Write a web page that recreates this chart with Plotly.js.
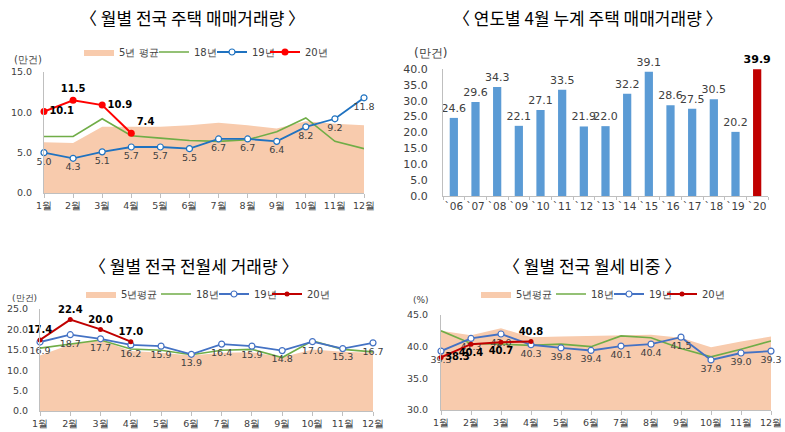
<!DOCTYPE html>
<html><head><meta charset="utf-8">
<script src="https://cdn.plot.ly/plotly-3.0.1.min.js"></script>
<style>html,body{margin:0;padding:0;background:#fff}</style>
</head><body><div id="chart" style="width:785px;height:432px"></div>
<script>
const months = ['1월','2월','3월','4월','5월','6월','7월','8월','9월','10월','11월','12월'];
const legendNames = ['5년 평균','18년','19년','20년'];
const legendNamesB = ['5년평균','18년','19년','20년'];
// Panel 1: 월별 전국 주택 매매거래량 (만건)
const sale5yr = [6.3,6.2,8.2,8.2,8.2,8.4,8.7,8.4,8.0,8.9,8.6,8.4];
const sale18 = [7.0,7.0,9.2,7.1,6.8,6.5,6.4,6.6,7.6,9.3,6.4,5.5];
const sale19 = [5.0,4.3,5.1,5.7,5.7,5.5,6.7,6.7,6.4,8.2,9.2,11.8];
const sale20 = [10.1,11.5,10.9,7.4];
// Panel 2: 연도별 4월 누계 주택 매매거래량 (만건)
const years = ['`06','`07','`08','`09','`10','`11','`12','`13','`14','`15','`16','`17','`18','`19','`20'];
const aprCum = [24.6,29.6,34.3,22.1,27.1,33.5,21.9,22.0,32.2,39.1,28.6,27.5,30.5,20.2,39.9];
// Panel 3: 월별 전국 전월세 거래량 (만건)
const rent5yr = [13.6,16.3,17.4,14.7,14.3,13.6,14.3,14.4,13.2,15.1,14.5,14.3];
const rent18 = [15.4,16.4,17.4,15.2,14.9,13.8,14.9,15.1,13.1,17.2,15.1,14.5];
const rent19 = [16.9,18.7,17.7,16.2,15.9,13.9,16.4,15.9,14.8,17.0,15.3,16.7];
const rent20 = [17.4,22.4,20.0,17.0];
// Panel 4: 월별 전국 월세 비중 (%)
const share5yr = [42.5,41.8,42.9,41.5,41.6,41.7,41.9,41.9,41.4,39.9,40.8,41.6];
const share18 = [42.5,40.5,40.4,40.2,40.4,40.0,41.7,41.4,39.7,38.4,39.6,40.9];
const share19 = [39.3,41.3,42.0,40.3,39.8,39.4,40.1,40.4,41.5,37.9,39.0,39.3];
const share20 = [38.3,40.4,40.7,40.8];

const fmt = v => v.toFixed(1);
const AREA = '#F8CBAD', GREEN = '#70AD47';
const lblFont = {family:'DejaVu Sans', size:9.5, color:'#404040'};
const boldFont = {family:'DejaVu Sans', size:10, color:'#000'};
const LW = [30, 13, 8, 20];

function lineSet(xa, ya, leg, names, a5, a18, a19, a20, blue, red, pos19, pos20, mk20) {
  return [
    {x:months, y:a5, xaxis:xa, yaxis:ya, legend:leg, name:names[0], legendwidth:LW[0], type:'scatter', mode:'lines',
     fill:'tozeroy', fillcolor:AREA, line:{width:0, color:AREA}, hoverinfo:'skip'},
    {x:months, y:a18, xaxis:xa, yaxis:ya, legend:leg, name:names[1], legendwidth:LW[1], type:'scatter', mode:'lines',
     line:{color:GREEN, width:1.6}},
    {x:months, y:a19, xaxis:xa, yaxis:ya, legend:leg, name:names[2], legendwidth:LW[2], type:'scatter', mode:'lines+markers+text',
     line:{color:blue, width:1.8}, marker:{symbol:'circle', size:6, color:'#fff', line:{color:blue, width:1.2}},
     text:a19.map(fmt), textposition:pos19, textfont:lblFont, cliponaxis:false},
    {x:months.slice(0,a20.length), y:a20, xaxis:xa, yaxis:ya, legend:leg, name:names[3], legendwidth:LW[3], type:'scatter', mode:'lines+markers+text',
     line:{color:red, width:2}, marker:{symbol:'circle', size:mk20, color:red},
     text:a20.map(v=>'<b>'+fmt(v)+'</b>'), textposition:pos20, textfont:boldFont, cliponaxis:false}
  ];
}

const traces = [].concat(
  lineSet('x','y','legend', legendNames, sale5yr, sale18, sale19, sale20, '#1F72C0', '#FF0000',
    'bottom center', ['middle right','top center','middle right','top right'], 7),
  [{x:years, y:aprCum, xaxis:'x2', yaxis:'y2', type:'bar', showlegend:false,
    marker:{color:years.map((y,i)=> i===years.length-1 ? '#C00000' : '#5B9BD5')},
    text:aprCum.map((v,i)=> i===aprCum.length-1 ? '<b>'+fmt(v)+'</b>' : fmt(v)),
    textposition:'outside', cliponaxis:false, constraintext:'none', textangle:0,
    textfont:{family:'DejaVu Sans', size:11, color:aprCum.map((v,i)=> i===aprCum.length-1 ? '#000' : '#404040')}}],
  lineSet('x3','y3','legend2', legendNamesB, rent5yr, rent18, rent19, rent20, '#4472C4', '#C00000',
    'bottom center', 'top center', 5),
  lineSet('x4','y4','legend3', legendNamesB, share5yr, share18, share19, share20, '#4472C4', '#C00000',
    'bottom center', ['middle right','bottom center','bottom center','top center'], 5)
);

const tickF = {family:'DejaVu Sans', size:9.5, color:'#404040'};
function xAx(dom, anchor, n) {
  return {domain:dom, anchor:anchor, type:'category', range:[0,n-1], showline:true, linecolor:'#BFBFBF', linewidth:1,
    ticks:'outside', ticklen:4, tickcolor:'#BFBFBF', tickfont:tickF, tickangle:0, showgrid:false, zeroline:false, fixedrange:true};
}
function yAx(dom, anchor, rng, dt, standoff) {
  return {domain:dom, anchor:anchor, range:rng, dtick:dt, tickformat:'.1f', showline:true, linecolor:'#BFBFBF', linewidth:1,
    ticks:'', tickfont:tickF, ticklabelstandoff:standoff, showgrid:false, zeroline:false, fixedrange:true};
}
const W=785, H=432;
const px = a => a/W, py = b => 1-b/H;
const legF = {family:'DejaVu Sans', size:10, color:'#404040'};
function ann(text, x, y, size, family, color) {
  return {text:text, x:px(x), y:py(y), xref:'paper', yref:'paper', xanchor:'center', yanchor:'middle', showarrow:false,
    font:{family:family, size:size, color:color}};
}

const layout = {
  width:W, height:H, margin:{l:0,r:0,t:0,b:0}, paper_bgcolor:'#fff', plot_bgcolor:'rgba(0,0,0,0)',
  font:{family:'DejaVu Sans', color:'#404040'},
  xaxis: xAx([px(44),px(364)],'y',12),
  yaxis: yAx([py(193),py(72)],'x',[0,15],5,9),
  xaxis2: Object.assign(xAx([px(443),px(768)],'y2',15), {range:[-0.5,14.5], tickson:'boundaries', ticklen:3, tickfont:{family:'DejaVu Sans', size:10.5, color:'#404040'}}),
  yaxis2: Object.assign(yAx([py(196),py(69)],'x2',[0,40],5,12), {tickfont:{family:'DejaVu Sans', size:11, color:'#404040'}}),
  xaxis3: xAx([px(40),px(373)],'y3',12),
  yaxis3: yAx([py(411),py(309)],'x3',[0,25],5,9),
  xaxis4: xAx([px(441),px(771)],'y4',12),
  yaxis4: yAx([py(410),py(315)],'x4',[30,45],5,10),
  bargap:0.62,
  legend:{orientation:'h', x:px(79), y:py(52), xanchor:'left', yanchor:'middle', font:legF, itemwidth:30, bgcolor:'rgba(0,0,0,0)'},
  legend2:{orientation:'h', x:px(81), y:py(294), xanchor:'left', yanchor:'middle', font:legF, itemwidth:30, bgcolor:'rgba(0,0,0,0)'},
  legend3:{orientation:'h', x:px(476), y:py(294), xanchor:'left', yanchor:'middle', font:legF, itemwidth:30, bgcolor:'rgba(0,0,0,0)'},
  annotations:[
    ann('〈 월별 전국 주택 매매거래량 〉', 192, 18, 17, 'Noto Sans CJK KR', '#000'),
    ann('〈 연도별 4월 누계 주택 매매거래량 〉', 588, 18, 17, 'Noto Sans CJK KR', '#000'),
    ann('〈 월별 전국 전월세 거래량 〉', 193, 265, 17, 'Noto Sans CJK KR', '#000'),
    ann('〈 월별 전국 월세 비중 〉', 592, 265, 17, 'Noto Sans CJK KR', '#000'),
    ann('(만건)', 28, 59, 10, 'DejaVu Sans', '#404040'),
    ann('(만건)', 430, 53, 12, 'DejaVu Sans', '#404040'),
    ann('(만건)', 24, 298, 9, 'DejaVu Sans', '#404040'),
    ann('(%)', 421, 300, 9, 'DejaVu Sans', '#404040')
  ]
};
Plotly.newPlot('chart', traces, layout, {displayModeBar:false, staticPlot:true});
</script></body></html>
